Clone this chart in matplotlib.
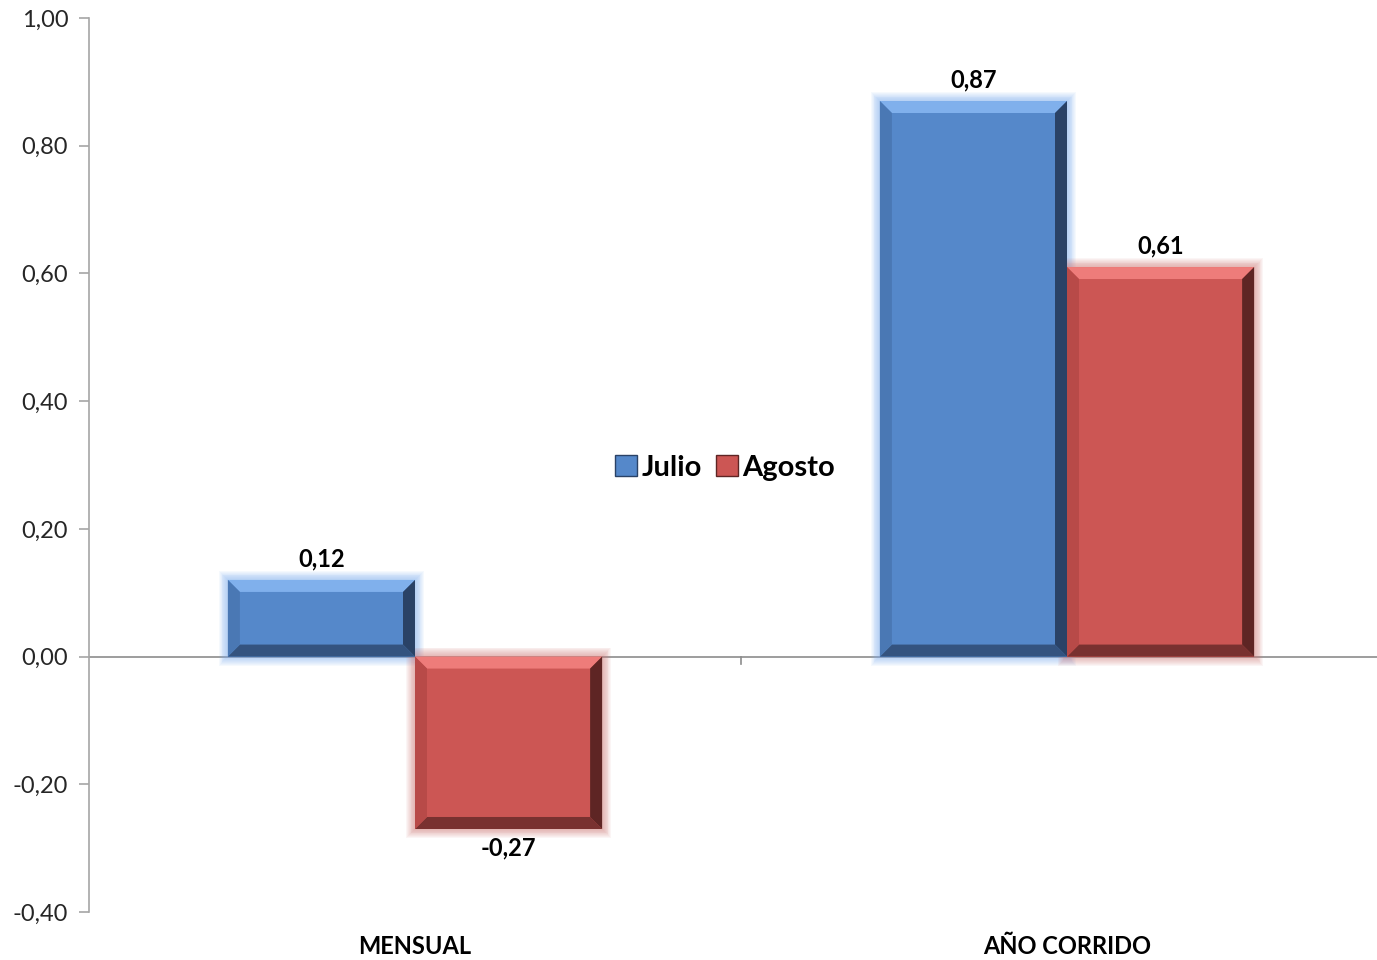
import numpy as np
import matplotlib
matplotlib.use("Agg")
import matplotlib.pyplot as plt
from matplotlib.patches import Polygon, Rectangle, Patch

plt.rcParams['font.family'] = ['Lato', 'DejaVu Sans']

categories = ["MENSUAL", "AÑO CORRIDO"]
series_names = ["Julio", "Agosto"]
julio = [0.12, 0.87]
agosto = [-0.27, 0.61]
yticks = [-0.40, -0.20, 0.00, 0.20, 0.40, 0.60, 0.80, 1.00]

face = {"Julio": "#5588CA", "Agosto": "#CC5654"}
light = {"Julio": "#80B0EC", "Agosto": "#EE7C7A"}
dark = {"Julio": "#2A4266", "Agosto": "#5E2524"}
mid = {"Julio": "#4A78B4", "Agosto": "#B84A48"}
glow = {"Julio": "#7FB0F0", "Agosto": "#D27C7A"}

fig = plt.figure(figsize=(13.77, 9.6), dpi=100)
ax = fig.add_axes([89 / 1377, 48 / 960, 1 - 89 / 1377, (912 - 18) / 960])

ax.set_xlim(-0.5, -0.5 + 1288 / 652)
ax.set_ylim(-0.40, 1.00)

width = 0.287
offsets = [-0.1435, 0.1435]
bw_x = 12 / 652
bw_y = 12 / 638.6


def fancy_bar(x0, x1, v, name):
    y0, y1 = min(0, v), max(0, v)
    # soft glow around the bar
    for k in range(10, 0, -1):
        gx = k * 0.9 / 652
        gy = k * 0.9 / 638.6
        ax.add_patch(Rectangle((x0 - gx, y0 - gy), (x1 - x0) + 2 * gx, (y1 - y0) + 2 * gy,
                               facecolor=glow[name], edgecolor="none", alpha=0.07, zorder=2))
    ax.bar((x0 + x1) / 2, v, width=x1 - x0, color=face[name], zorder=3)
    bx = min(bw_x, (x1 - x0) / 2)
    by = min(bw_y, (y1 - y0) / 2)
    top = [(x0, y1), (x1, y1), (x1 - bx, y1 - by), (x0 + bx, y1 - by)]
    bottom = [(x0, y0), (x1, y0), (x1 - bx, y0 + by), (x0 + bx, y0 + by)]
    left = [(x0, y0), (x0, y1), (x0 + bx, y1 - by), (x0 + bx, y0 + by)]
    right = [(x1, y0), (x1, y1), (x1 - bx, y1 - by), (x1 - bx, y0 + by)]
    ax.add_patch(Polygon(top, closed=True, facecolor=light[name], edgecolor="none", zorder=4))
    ax.add_patch(Polygon(bottom, closed=True, facecolor=dark[name], edgecolor="none", alpha=0.75, zorder=4))
    ax.add_patch(Polygon(left, closed=True, facecolor=mid[name], edgecolor="none", zorder=4))
    ax.add_patch(Polygon(right, closed=True, facecolor=dark[name], edgecolor="none", zorder=4))


x = np.arange(len(categories))
for vals, name, off in [(julio, "Julio", offsets[0]), (agosto, "Agosto", offsets[1])]:
    for xi, v in zip(x, vals):
        c = xi + off
        fancy_bar(c - width / 2, c + width / 2, v, name)
        label = f"{v:.2f}".replace(".", ",")
        if v >= 0:
            ax.text(c, v + 0.015, label, ha="center", va="bottom", fontsize=17,
                    fontweight="bold", color="black", zorder=5)
        else:
            ax.text(c, v - 0.012, label, ha="center", va="top", fontsize=17,
                    fontweight="bold", color="black", zorder=5)

# axes styling
for s in ["top", "right", "bottom"]:
    ax.spines[s].set_visible(False)
ax.spines["left"].set_color("#A6A6A6")
ax.spines["left"].set_linewidth(1.2)
ax.axhline(0, color="#8C8C8C", linewidth=1.2, zorder=1)

ax.set_yticks(yticks)
ax.set_yticklabels([f"{t:.2f}".replace(".", ",") for t in yticks], fontsize=17, color="#262626")
ax.tick_params(axis="y", direction="out", length=7, width=1.2, color="#A6A6A6", pad=8)
ax.set_xticks([])

# small category separator tick on the zero line
ax.plot([0.5, 0.5], [0, -0.011], color="#8C8C8C", linewidth=1.2, clip_on=False)

for xi, cat in zip(x, categories):
    ax.text(xi, -0.039, cat, transform=ax.get_xaxis_transform(), ha="center", va="center",
            fontsize=17, fontweight="bold", color="black")

handles = [Patch(facecolor=face[n], edgecolor=dark[n], linewidth=1) for n in series_names]
leg = ax.legend(handles, series_names, loc="center", bbox_to_anchor=(0.494, 0.497),
                frameon=False, ncol=2, prop={"size": 21, "weight": "bold"},
                handlelength=0.75, handleheight=0.75, handletextpad=0.15, columnspacing=0.5)

fig.savefig("out.png", dpi=100, facecolor="white")
